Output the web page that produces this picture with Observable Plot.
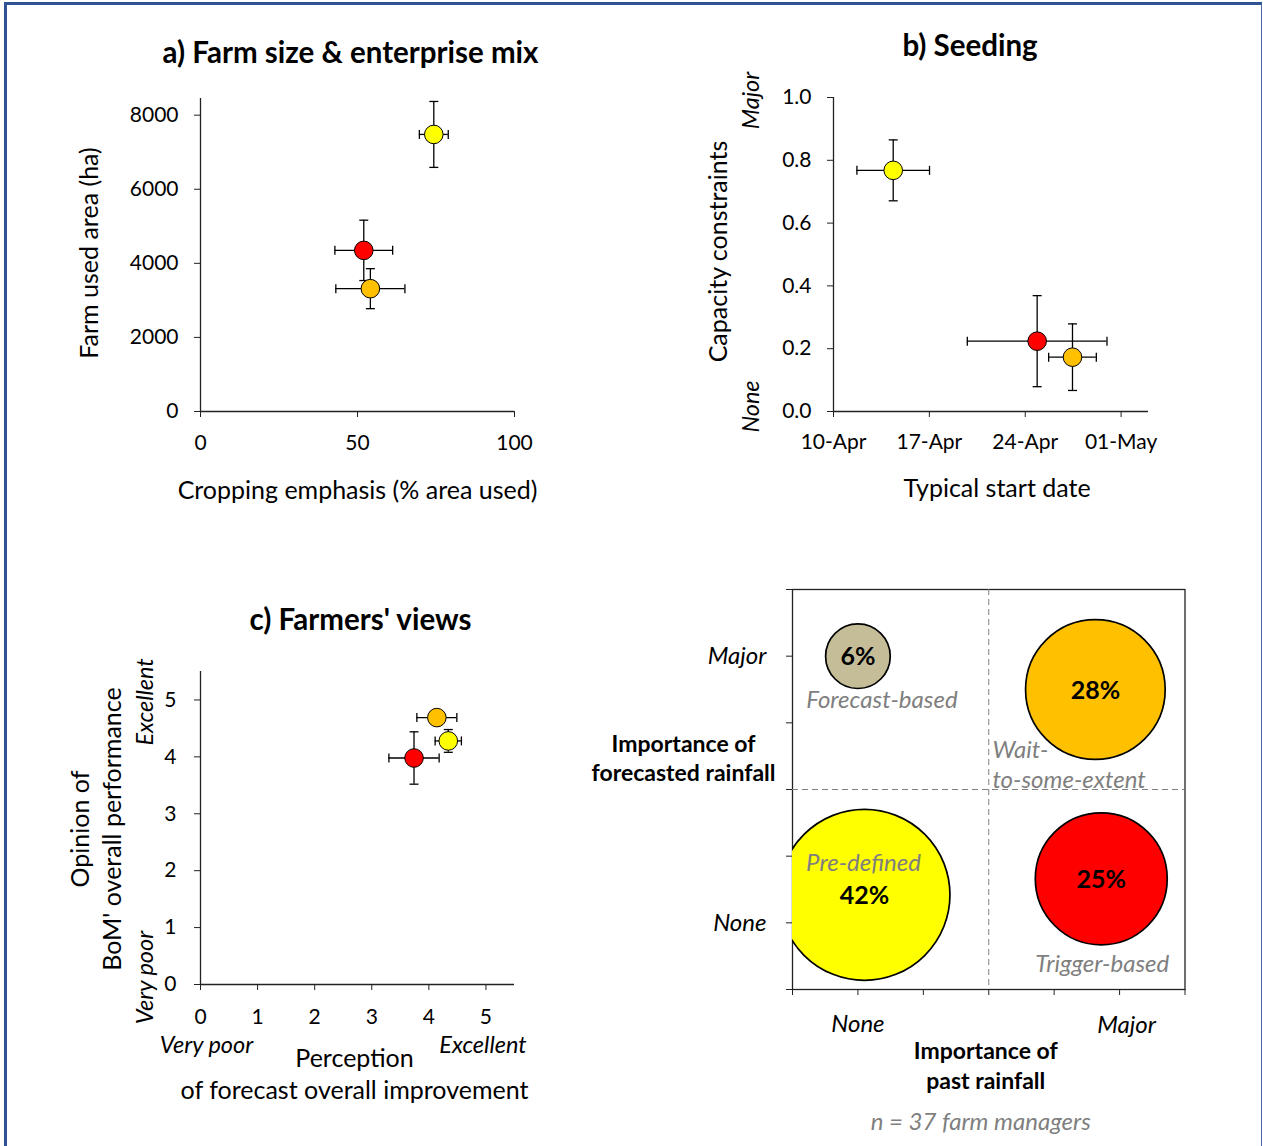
<!DOCTYPE html>
<html><head><meta charset="utf-8">
<script src="https://cdn.jsdelivr.net/npm/d3@7"></script>
<script src="https://cdn.jsdelivr.net/npm/@observablehq/plot@0.6"></script>
<style>
html,body{margin:0;padding:0;background:#fff;}
#wrap{position:relative;width:1263px;height:1146px;overflow:hidden;background:#fff;font-family:Lato,sans-serif;}
#border{position:absolute;left:4px;top:2px;width:1254px;height:1200px;border-left:3px solid #2F5496;border-top:3px solid #2F5496;border-right:1.5px solid #4A6AA8;}
.panel{position:absolute;}
.panel svg{overflow:visible;}
</style>
</head><body>
<div id="wrap"><div id="border"></div></div>
<script>
// ---------- data ----------
const groups = ["Pre-defined", "Wait-to-some-extent", "Trigger-based"];
const groupColors = ["#FFFF00", "#FFC000", "#FF0000"];

// a) Farm size & enterprise mix
const cropPct = [74.3, 54.1, 52.0];
const cropPctErr = [4.6, 11.0, 9.2];
const farmArea = [7480, 3316, 4350];
const farmAreaErr = [890, 540, 815];
const areaTicks = [0, 2000, 4000, 6000, 8000];
const cropTicks = [0, 50, 100];

// b) Seeding (day of April)
const startDay = [14.36, 27.45, 24.87];
const startDayErr = [2.65, 1.74, 5.1];
const capacity = [0.768, 0.173, 0.224];
const capacityErr = [0.097, 0.106, 0.145];
const dateTicks = [10, 17, 24, 31];
const dateTickLabels = ["10-Apr", "17-Apr", "24-Apr", "01-May"];
const capacityTicks = [0, 0.2, 0.4, 0.6, 0.8, 1.0];

// c) Farmers' views
const perception = [4.34, 4.14, 3.74];
const perceptionErr = [0.23, 0.35, 0.44];
const opinion = [4.28, 4.69, 3.98];
const opinionErr = [0.2, 0.1, 0.46];
const scoreTicks = [0, 1, 2, 3, 4, 5];

// d) Seeding-decision strategies
const strategies = ["Forecast-based", "Wait-to-some-extent", "Pre-defined", "Trigger-based"];
const strategyShare = [6, 28, 42, 25];
const pastRainImportance = [1, 4.63, 1.1, 4.72];
const forecastRainImportance = [5, 4.5, 1.42, 1.66];
const strategyColors = ["#C4BD97", "#FFC000", "#FFFF00", "#FF0000"];
const quadrantTicks = [0, 1, 2, 3, 4, 5, 6];
const quadrantSplit = 3;
const importanceTicks = [1, 5];
const importanceLabels = ["None", "Major"];

// ---------- helpers ----------
const FONT = "Lato, 'Open Sans', sans-serif";
const hCap = {draw(ctx, size) { const r = Math.sqrt(size / Math.PI); ctx.moveTo(-r, 0); ctx.lineTo(r, 0); }};
const vCap = {draw(ctx, size) { const r = Math.sqrt(size / Math.PI); ctx.moveTo(0, -r); ctx.lineTo(0, r); }};

function table(xs, exs, ys, eys) {
  return groups.map((g, i) => ({group: g, color: groupColors[i], x: xs[i], ex: exs[i], y: ys[i], ey: eys[i]}));
}
function errorMarks(data) {
  const s = {stroke: "black", strokeWidth: 1.3};
  return [
    Plot.ruleX(data, {x: "x", y1: d => d.y - d.ey, y2: d => d.y + d.ey, ...s}),
    Plot.ruleY(data, {y: "y", x1: d => d.x - d.ex, x2: d => d.x + d.ex, ...s}),
    Plot.dot(data, {x: "x", y: d => d.y - d.ey, symbol: hCap, r: 4.5, fill: "none", ...s}),
    Plot.dot(data, {x: "x", y: d => d.y + d.ey, symbol: hCap, r: 4.5, fill: "none", ...s}),
    Plot.dot(data, {x: d => d.x - d.ex, y: "y", symbol: vCap, r: 4.5, fill: "none", ...s}),
    Plot.dot(data, {x: d => d.x + d.ex, y: "y", symbol: vCap, r: 4.5, fill: "none", ...s}),
    Plot.dot(data, {x: "x", y: "y", r: 9.3, fill: d => d.color, stroke: "black", strokeWidth: 1})
  ];
}
function axisLines(xmin, ymin) {
  return [
    Plot.ruleX([xmin], {stroke: "#222", strokeWidth: 1.3}),
    Plot.ruleY([ymin], {stroke: "#222", strokeWidth: 1.3})
  ];
}
// text helper: anchored in the middle unless overridden
const T = (data, opts) => Plot.text(Array.isArray(data) ? data : [data],
  {text: d => d, fill: "black", fontFamily: FONT, textAnchor: "middle", lineAnchor: "middle", ...opts});
const TITLE = {fontSize: 29.5, fontWeight: "bold"};
const AXT = {fontSize: 25, lineHeight: 1.28};
const ITAL = {fontSize: 23.5, fontStyle: "italic"};
const baseStyle = {fontFamily: FONT, fontSize: "21px", color: "black", background: "transparent", overflow: "visible"};
function place(svg, left, top) {
  const div = document.createElement("div");
  div.className = "panel";
  div.style.left = left + "px"; div.style.top = top + "px";
  div.appendChild(svg);
  document.getElementById("wrap").appendChild(div);
}

// ---------- panel a ----------
const dataA = table(cropPct, cropPctErr, farmArea, farmAreaErr);
place(Plot.plot({
  width: 640, height: 530,
  marginLeft: 200, marginRight: 126, marginTop: 98, marginBottom: 119,
  style: baseStyle,
  x: {domain: [0, 100]},
  y: {domain: [0, 8450]},
  color: {type: "identity"},
  marks: [
    ...axisLines(0, 0),
    Plot.axisX({ticks: cropTicks, tickSize: 6, tickPadding: 18, label: null, stroke: "#222"}),
    Plot.axisY({ticks: areaTicks, tickSize: 6, tickPadding: 16, label: null, tickFormat: d3.format("d"), stroke: "#222"}),
    ...errorMarks(dataA),
    T("a) Farm size & enterprise mix", {frameAnchor: "top", dx: -7, dy: -45, ...TITLE}),
    T("Farm used area (ha)", {frameAnchor: "left", dx: -113, dy: -2, rotate: -90, ...AXT}),
    T("Cropping emphasis (% area used)", {frameAnchor: "bottom", dx: 0, dy: 77, ...AXT})
  ]
}), 0, 0);

// ---------- panel b ----------
const dataB = table(startDay, startDayErr, capacity, capacityErr);
place(Plot.plot({
  width: 623, height: 530,
  marginLeft: 193, marginRight: 115, marginTop: 97, marginBottom: 119,
  style: baseStyle,
  x: {domain: [10, 33]},
  y: {domain: [0, 1]},
  color: {type: "identity"},
  marks: [
    ...axisLines(10, 0),
    Plot.axisX({ticks: dateTicks, tickSize: 6, tickPadding: 17, label: null, stroke: "#222",
      tickFormat: d => dateTickLabels[dateTicks.indexOf(d)]}),
    Plot.axisY({ticks: capacityTicks, tickSize: 6, tickPadding: 16, label: null, tickFormat: d3.format(".1f"), stroke: "#222"}),
    ...errorMarks(dataB),
    T("b) Seeding", {frameAnchor: "top", dx: -21, dy: -51, ...TITLE}),
    T("Capacity constraints", {frameAnchor: "left", dx: -117, dy: -3, rotate: -90, ...AXT}),
    T("Major", {y: () => 1, frameAnchor: "left", dx: -82, dy: 3, rotate: -90, ...ITAL}),
    T("None", {y: () => 0, frameAnchor: "left", dx: -82, dy: -5, rotate: -90, ...ITAL}),
    T("Typical start date", {frameAnchor: "bottom", dx: 6, dy: 75, ...AXT})
  ]
}), 640, 0);

// ---------- panel c ----------
const dataC = table(perception, perceptionErr, opinion, opinionErr);
place(Plot.plot({
  width: 590, height: 586,
  marginLeft: 200, marginRight: 76, marginTop: 111, marginBottom: 162,
  style: baseStyle,
  x: {domain: [0, 5.5]},
  y: {domain: [0, 5.5]},
  color: {type: "identity"},
  marks: [
    ...axisLines(0, 0),
    Plot.axisX({ticks: scoreTicks, tickSize: 6, tickPadding: 19, label: null, tickFormat: d3.format("d"), stroke: "#222"}),
    Plot.axisY({ticks: scoreTicks, tickSize: 6, tickPadding: 18, label: null, tickFormat: d3.format("d"), stroke: "#222"}),
    ...errorMarks(dataC),
    T("c) Farmers' views", {frameAnchor: "top", dx: 3, dy: -51, ...TITLE}),
    T("Opinion of\nBoM' overall performance", {frameAnchor: "left", dx: -106, dy: 1, rotate: -90, ...AXT}),
    T("Excellent", {y: () => 5, frameAnchor: "left", dx: -55, dy: 2, rotate: -90, ...ITAL}),
    T("Very poor", {y: () => 0, frameAnchor: "left", dx: -55, dy: -7, rotate: -90, ...ITAL}),
    T("Very poor", {x: () => 0, frameAnchor: "bottom", dx: 6, dy: 61, ...ITAL}),
    T("Excellent", {x: () => 5, frameAnchor: "bottom", dx: -3, dy: 61, ...ITAL}),
    T("Perception\nof forecast overall improvement", {frameAnchor: "bottom", dx: -3, dy: 88, ...AXT})
  ]
}), 0, 560);

// ---------- panel d ----------
const bubbles = strategies.map((s, i) => ({strategy: s, share: strategyShare[i], x: pastRainImportance[i], y: forecastRainImportance[i], color: strategyColors[i]}));
const byName = n => bubbles.filter(d => d.strategy === n);
const gray = "#7F7F7F";
const lab = {fontFamily: FONT, fontSize: 24, fontStyle: "italic", fill: gray, lineAnchor: "middle"};
place(Plot.plot({
  width: 673, height: 586,
  marginLeft: 202, marginRight: 78.5, marginTop: 29, marginBottom: 157,
  style: baseStyle,
  x: {domain: [0, 6]},
  y: {domain: [0, 6]},
  r: {type: "sqrt", domain: [0, 42], range: [0, 85.5]},
  color: {type: "identity"},
  marks: [
    Plot.frame({stroke: "#222", strokeWidth: 1.3}),
    Plot.ruleX([quadrantSplit], {stroke: "#808080", strokeDasharray: "6,4", strokeWidth: 1}),
    Plot.ruleY([quadrantSplit], {stroke: "#808080", strokeDasharray: "6,4", strokeWidth: 1}),
    Plot.axisX({ticks: quadrantTicks, tickSize: 6, tickFormat: () => "", label: null, stroke: "#222"}),
    Plot.axisY({ticks: quadrantTicks, tickSize: 6, tickFormat: () => "", label: null, stroke: "#222"}),
    Plot.dot(bubbles, {x: "x", y: "y", r: "share", fill: "color", stroke: "black", strokeWidth: 1.7, clip: true}),
    Plot.text(bubbles, {x: "x", y: "y", text: d => d.share + "%", fontFamily: FONT, fontSize: 25, fontWeight: "bold", fill: "black", dy: 1}),
    Plot.text(byName("Forecast-based"), {x: "x", y: "y", text: "strategy", dx: 24, dy: 44, ...lab}),
    Plot.text(byName("Wait-to-some-extent"), {x: "x", y: "y", text: () => "Wait-\nto-some-extent", textAnchor: "start", dx: -103, dy: 74, ...lab, lineHeight: 1.25}),
    Plot.text(byName("Pre-defined"), {x: "x", y: "y", text: "strategy", dx: -1, dy: -32, ...lab}),
    Plot.text(byName("Trigger-based"), {x: "x", y: "y", text: "strategy", dx: 1, dy: 85, ...lab}),
    T(importanceLabels, {y: (d, i) => importanceTicks[i], frameAnchor: "left", textAnchor: "end", dx: -26, ...ITAL, fontSize: 24}),
    T(importanceLabels.slice(0, 1), {x: () => importanceTicks[0], frameAnchor: "bottom", dx: 0, dy: 35, ...ITAL, fontSize: 24}),
    T(importanceLabels.slice(1), {x: () => importanceTicks[1], frameAnchor: "bottom", dx: 7, dy: 36, ...ITAL, fontSize: 24}),
    T("Importance of\nforecasted rainfall", {frameAnchor: "left", dx: -109, dy: -32, fontSize: 23, fontWeight: "bold", lineHeight: 1.27}),
    T("Importance of\npast rainfall", {frameAnchor: "bottom", dx: -3, dy: 75, fontSize: 23, fontWeight: "bold", lineHeight: 1.3}),
    T("n = 37 farm managers", {frameAnchor: "bottom", dx: -8, dy: 133, ...lab})
  ]
}), 590, 560);
</script>
</body></html>
